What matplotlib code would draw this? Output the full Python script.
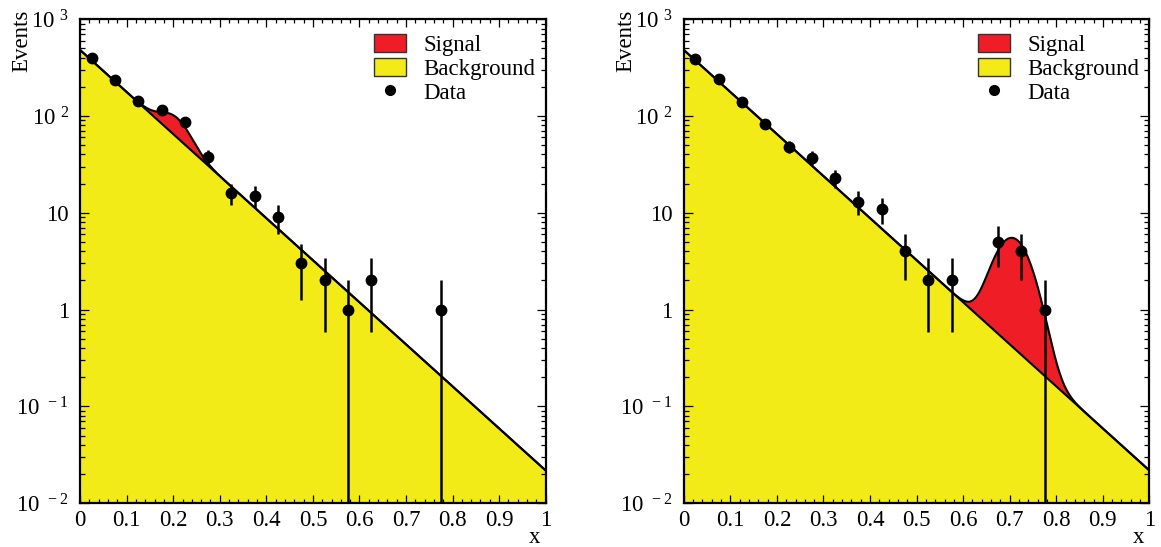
import numpy as np
import matplotlib.pyplot as plt
from matplotlib.ticker import FixedLocator, MultipleLocator, LogLocator, NullFormatter
from matplotlib.patches import Patch
from matplotlib.lines import Line2D

plt.rcParams['font.family'] = ['Liberation Serif', 'DejaVu Serif']
plt.rcParams['mathtext.fontset'] = 'custom'
plt.rcParams['mathtext.rm'] = 'Liberation Serif'

# bin centres (width 0.05)
bin_centres = [0.025, 0.075, 0.125, 0.175, 0.225, 0.275, 0.325, 0.375, 0.425, 0.475,
               0.525, 0.575, 0.625, 0.675, 0.725, 0.775, 0.825, 0.875, 0.925, 0.975]

# counts
counts_left = [400, 234, 142, 115, 86, 38, 16, 15, 9, 3, 2, 1, 2, 0, 0, 1, 0, 0, 0, 0]
counts_right = [385, 240, 139, 82, 48, 37, 23, 13, 11, 4, 2, 2, 0, 5, 4, 1, 0, 0, 0, 0]

# model parameters: background norm/slope, signal amp/mean/width
bkg_norm = 480.0
bkg_slope = 10.0
sig_left = (37.0, 0.20, 0.030)
sig_right = (5.1, 0.705, 0.035)

RED = '#EE1D26'
YELLOW = '#F2EB17'

yticks = [1e-2, 1e-1, 1, 10, 1e2, 1e3]
ylabels = [r'$\mathregular{10^{\ -2}}$', r'$\mathregular{10^{\ -1}}$', '1', '10',
           r'$\mathregular{10^{\ 2}}$', r'$\mathregular{10^{\ 3}}$']
xlabels = ['0', '0.1', '0.2', '0.3', '0.4', '0.5', '0.6', '0.7', '0.8', '0.9', '1']


def painel(ax, counts, sig):
    xs = np.linspace(0, 1, 600)
    bkg = bkg_norm * np.exp(-bkg_slope * xs)
    amp, mu, sd = sig
    tot = bkg + amp * np.exp(-0.5 * ((xs - mu) / sd) ** 2)

    ax.fill_between(xs, 1e-3, bkg, color=YELLOW, lw=0)
    ax.fill_between(xs, bkg, tot, color=RED, lw=0)
    ax.plot(xs, tot, color='black', lw=1.5)
    ax.plot(xs, bkg, color='black', lw=1.5)

    n = np.array(counts, dtype=float)
    x = np.array(bin_centres)
    m = n > 0
    err = np.sqrt(n[m])
    lo = np.minimum(err, n[m] - 1e-4)
    ax.errorbar(x[m], n[m], yerr=[lo, err], fmt='o', color='black', ms=7.5,
                elinewidth=1.8, capsize=0, zorder=5)

    ax.set_yscale('log')
    ax.set_xlim(0, 1)
    ax.set_ylim(1e-2, 1e3)
    ax.yaxis.set_major_locator(FixedLocator(yticks))
    ax.set_yticklabels(ylabels)
    ax.yaxis.set_minor_locator(LogLocator(base=10, subs=np.arange(2, 10)))
    ax.yaxis.set_minor_formatter(NullFormatter())
    ax.set_xticks(np.arange(0, 1.01, 0.1))
    ax.set_xticklabels(xlabels)
    ax.xaxis.set_minor_locator(MultipleLocator(0.02))

    ax.tick_params(which='both', direction='in', top=True, right=True, labelsize=16.5, width=0.9)
    ax.tick_params(axis='x', which='major', length=6, pad=5)
    ax.tick_params(axis='x', which='minor', length=3)
    ax.tick_params(axis='y', which='major', length=6.5, pad=8)
    ax.tick_params(axis='y', which='minor', length=3.3)
    for s in ax.spines.values():
        s.set_linewidth(1.6)

    # ROOT style axis titles at the ends
    ax.text(-0.125, 1.02, 'Events', transform=ax.transAxes, rotation=90,
            ha='center', va='top', fontsize=16.5)
    ax.text(0.988, -0.049, 'x', transform=ax.transAxes, ha='right', va='top', fontsize=16.5)

    hs = [Patch(facecolor=RED, edgecolor='#333333', lw=1),
          Patch(facecolor=YELLOW, edgecolor='#333333', lw=1),
          Line2D([], [], marker='o', color='black', ls='none', ms=7)]
    ax.legend(hs, ['Signal', 'Background', 'Data'], loc='upper right', frameon=False,
              fontsize=16.5, handlelength=1.4, handleheight=0.85, labelspacing=0.08,
              handletextpad=0.75, borderaxespad=0.0, borderpad=0.0,
              bbox_to_anchor=(0.978, 0.97))


fig = plt.figure(figsize=(11.61, 5.47), dpi=100)
ax1 = fig.add_axes([0.069, 0.080, 0.401, 0.885])
ax2 = fig.add_axes([0.589, 0.080, 0.401, 0.885])
painel(ax1, counts_left, sig_left)
painel(ax2, counts_right, sig_right)

fig.savefig('out.png', dpi=100)
